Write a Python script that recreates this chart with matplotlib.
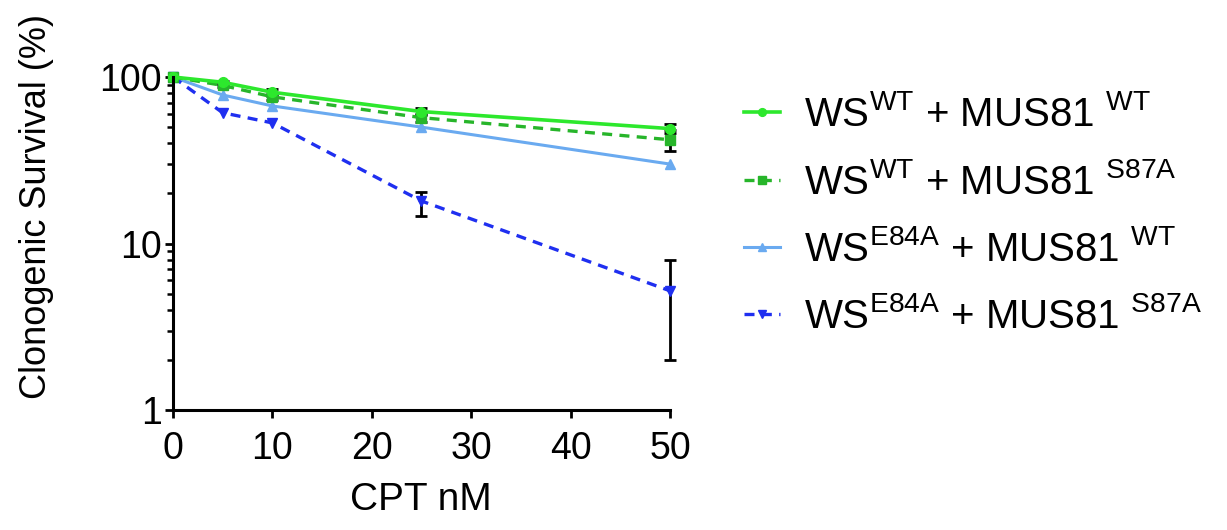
import numpy as np
import matplotlib
matplotlib.use("Agg")
import matplotlib.pyplot as plt

plt.rcParams['font.family'] = ['Liberation Sans', 'DejaVu Sans']
plt.rcParams['mathtext.fontset'] = 'custom'
plt.rcParams['mathtext.rm'] = 'Liberation Sans'
plt.rcParams['mathtext.it'] = 'Liberation Sans'

# data
cpt_nm = [0, 5, 10, 25, 50]

ws_wt_mus_wt = [100, 93, 81, 62, 49]
ws_wt_mus_wt_err = [0, 2, 4, 3, 3]

ws_wt_mus_s87a = [100, 89, 76, 57, 42]
ws_wt_mus_s87a_err = [0, 2, 3, 3, 6]

ws_e84a_mus_wt = [100, 78, 67, 50, 30]

ws_e84a_mus_s87a = [100, 61, 53, 18, 5.2]
ws_e84a_mus_s87a_err_lo = [0, 0, 0, 3.3, 3.2]
ws_e84a_mus_s87a_err_hi = [0, 0, 0, 2.3, 2.8]

labels = [r'WS$^{\mathrm{WT}}$ + MUS81 $^{\mathrm{WT}}$',
          r'WS$^{\mathrm{WT}}$ + MUS81 $^{\mathrm{S87A}}$',
          r'WS$^{\mathrm{E84A}}$ + MUS81 $^{\mathrm{WT}}$',
          r'WS$^{\mathrm{E84A}}$ + MUS81 $^{\mathrm{S87A}}$']

fig = plt.figure(figsize=(12.27, 5.30), dpi=100)
ax = fig.add_axes([0.141, 0.2264, 0.405, 0.6283])

common = dict(ecolor='black', elinewidth=2, capsize=4, capthick=2, clip_on=False, markersize=7)


def show_err(lo, hi=None):
    hi = lo if hi is None else hi
    return [(a > 0 or b > 0) for a, b in zip(lo, hi)]


l4 = ax.errorbar(cpt_nm, ws_e84a_mus_s87a, yerr=[ws_e84a_mus_s87a_err_lo, ws_e84a_mus_s87a_err_hi],
                 errorevery=show_err(ws_e84a_mus_s87a_err_lo, ws_e84a_mus_s87a_err_hi),
                 color='#1f2ff0', linestyle=(0, (3, 2.2)), linewidth=2.4, marker='v', **common)
l3, = ax.plot(cpt_nm, ws_e84a_mus_wt, color='#6aaaf0', linestyle='-', linewidth=2.2,
              marker='^', markersize=7, clip_on=False)
l2 = ax.errorbar(cpt_nm, ws_wt_mus_s87a, yerr=ws_wt_mus_s87a_err,
                 errorevery=show_err(ws_wt_mus_s87a_err),
                 color='#27b52a', linestyle=(0, (3, 2.2)), linewidth=2.4, marker='s', **common)
l1 = ax.errorbar(cpt_nm, ws_wt_mus_wt, yerr=ws_wt_mus_wt_err,
                 errorevery=show_err(ws_wt_mus_wt_err),
                 color='#2de82d', linestyle='-', linewidth=2.6, marker='o', **common)

ax.set_yscale('log')
ax.set_ylim(1, 100)
ax.set_xlim(0, 50)
ax.set_xticks([0, 10, 20, 30, 40, 50])
ax.set_yticks([1, 10, 100])
ax.set_yticklabels(['1', '10', '100'])

for side in ['top', 'right']:
    ax.spines[side].set_visible(False)
for side in ['left', 'bottom']:
    ax.spines[side].set_linewidth(2.2)

ax.tick_params(axis='both', which='major', labelsize=27, width=2, length=6, direction='out')
ax.tick_params(axis='x', which='major', pad=9)
ax.tick_params(axis='y', which='major', pad=2)
ax.tick_params(axis='y', which='minor', width=1.8, length=4)

fig.text(0.03, 0.61, 'Clonogenic Survival (%)', rotation=90, fontsize=26,
         ha='center', va='center')
fig.text(0.343, 0.057, 'CPT nM', fontsize=28, ha='center', va='center')

handles = [l1[0], l2[0], l3, l4[0]]
leg = fig.legend(handles, labels,
                 loc='center left', bbox_to_anchor=(0.606, 0.593), frameon=False,
                 fontsize=29, handlelength=0.9, handletextpad=0.6, labelspacing=0.7,
                 borderpad=0, borderaxespad=0, markerscale=0.8)

fig.savefig('out.png', dpi=100)
